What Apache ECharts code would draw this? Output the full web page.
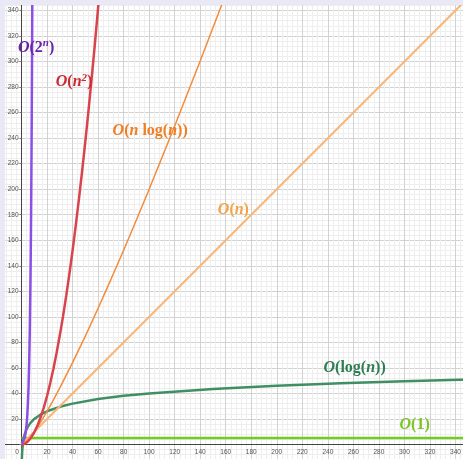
<!DOCTYPE html>
<html>
<head>
<meta charset="utf-8">
<script src="https://cdn.jsdelivr.net/npm/echarts@6/dist/echarts.min.js"></script>
<style>
html,body{margin:0;padding:0;background:#e9e9f5;width:463px;height:459px;overflow:hidden;}
#wrap{position:absolute;left:5px;top:5px;width:458px;height:454px;overflow:hidden;background:#fff;}
#chart{position:absolute;left:-29px;top:-40px;width:525px;height:525px;}
</style>
</head>
<body>
<div id="wrap"><div id="chart"></div></div>
<script>
// ---- data ----
const xTicks = [0,20,40,60,80,100,120,140,160,180,200,220,240,260,280,300,320,340];
const yTicks = [20,40,60,80,100,120,140,160,180,200,220,240,260,280,300,320,340];

const exp2 = [[0,1],[0.5,1.4],[1,2],[1.5,2.8],[2,4],[2.5,5.7],[3,8],[3.5,11.3],[4,16],[4.5,22.6],[5,32],[5.5,45.3],[6,64],[6.5,90.5],[7,128],[7.25,152],[7.5,181],[7.75,215],[8,256],[8.25,304],[8.5,362]];
const quad = [[0,0],[2.5,0.6],[5,2.4],[7.5,5.3],[10,9.5],[12.5,14.8],[15,21.4],[17.5,29.1],[20,38],[22.5,48.1],[25,59.4],[27.5,71.8],[30,85.5],[32.5,100.3],[35,116.4],[37.5,133.6],[40,152],[42.5,171.6],[45,192.4],[47.5,214.3],[50,237.5],[52.5,261.8],[55,287.4],[57.5,314.1],[60,342],[62,365]];
const nlogn = [[0,0],[0.25,-0.15],[0.5,-0.15],[0.75,-0.09],[1,0],[1.5,0.26],[2,0.6],[3,1.4],[4,2.4],[5,3.5],[7,5.9],[10,10],[15,17.6],[20,26],[25,35],[30,44.3],[40,64.1],[50,84.9],[60,106.7],[70,129.2],[80,152.2],[90,175.9],[100,200],[120,249.5],[140,300.5],[160,352.7]];
const linear = [[0,0],[350,350]];
const logn = [[0.27,-11.4],[0.35,-9.1],[0.5,-6],[0.7,-3.1],[1,0],[1.5,3.5],[2,6],[2.5,8],[3,9.5],[4,12],[5,14],[7,16.9],[10,20],[15,23.5],[20,26],[30,29.5],[40,32],[60,35.6],[80,38.1],[100,40],[150,43.5],[200,46],[250,48],[300,49.5],[350,50.9]];
const constant = [[0,5],[350,5]];

const labelAnchors = {
  exp2: [11.4, 311], quad: [41.2, 284], nlogn: [100.8, 246],
  linear: [166, 183.5], logn: [261, 60.4], constant: [308, 15]
};

const chart = echarts.init(document.getElementById('chart'), null, {renderer:'canvas'});

const serifFont = '"Liberation Serif", "DejaVu Serif", serif';
const tickFont = '"Liberation Sans", Arial, sans-serif';
function richFor(color){
  return {
    i:{fontFamily:serifFont,fontStyle:'italic',fontWeight:'bold',fontSize:16,color:color},
    r:{fontFamily:serifFont,fontWeight:'bold',fontSize:16,color:color},
    s:{fontFamily:serifFont,fontStyle:'italic',fontWeight:'bold',fontSize:11,color:color,padding:[0,0,8,0]}
  };
}
function lineSeries(name,data,color,width,anchor,text,labelColor){
  return {
    name:name,type:'line',data:data,showSymbol:false,smooth:false,
    lineStyle:{color:color,width:width},itemStyle:{color:color},
    clip:true,animation:false,silent:true,
    markPoint:{
      symbol:'circle',symbolSize:0,silent:true,animation:false,
      data:[{coord:anchor}],
      label:{show:true,position:'inside',formatter:text,rich:richFor(labelColor)}
    }
  };
}

const option = {
  animation:false,
  grid:{left:20,right:20,top:20,bottom:20,containLabel:false,show:false},
  xAxis:{
    type:'value',min:-20,max:360,interval:20,position:'bottom',offset:-25.5,
    axisLine:{onZero:false,lineStyle:{color:'#444',width:1}},
    axisTick:{show:false},
    axisLabel:{
      show:true,margin:4,fontSize:6.5,color:'#555',fontFamily:tickFont,hideOverlap:false,
      showMinLabel:true,showMaxLabel:true,
      formatter:function(v){ if(xTicks.indexOf(v)<0) return ''; return v===0?'{z|0}':String(v); },
      rich:{z:{fontSize:6.5,color:'#555',fontFamily:tickFont,padding:[0,9,0,0]}}
    },
    splitLine:{show:true,lineStyle:{color:'#d2d2d2',width:1}},
    minorTick:{show:false,splitNumber:5},
    minorSplitLine:{show:true,lineStyle:{color:'#eeeeee',width:1}}
  },
  yAxis:{
    type:'value',min:-20,max:360,interval:20,position:'left',offset:-25.5,
    axisLine:{onZero:false,lineStyle:{color:'#444',width:1}},
    axisTick:{show:true,length:2,lineStyle:{color:'#777'}},
    axisLabel:{
      show:true,margin:3,fontSize:6.5,color:'#555',fontFamily:tickFont,hideOverlap:false,
      showMinLabel:true,showMaxLabel:true,
      formatter:function(v){ return yTicks.indexOf(v)<0?'':String(v); }
    },
    splitLine:{show:true,lineStyle:{color:'#d2d2d2',width:1}},
    minorTick:{show:false,splitNumber:5},
    minorSplitLine:{show:true,lineStyle:{color:'#eeeeee',width:1}}
  },
  series:[
    lineSeries('O(1)',constant,'#72cc22',2.5,labelAnchors.constant,'{i|O}{r|(1)}','#7cc524'),
    lineSeries('O(log n)',logn,'#3f8f62',2.5,labelAnchors.logn,'{i|O}{r|(log(}{i|n}{r|))}','#2f7d52'),
    lineSeries('O(n)',linear,'#f8b676',2,labelAnchors.linear,'{i|O}{r|(}{i|n}{r|)}','#f2a247'),
    lineSeries('O(n log n)',nlogn,'#f28c3c',1.5,labelAnchors.nlogn,'{i|O}{r|(}{i|n}{r| log(}{i|n}{r|))}','#ee7f22'),
    lineSeries('O(n^2)',quad,'#d9434c',2.5,labelAnchors.quad,'{i|O}{r|(}{i|n}{s|2}{r|)}','#cc2a33'),
    lineSeries('O(2^n)',exp2,'#8c4ee6',2.5,labelAnchors.exp2,'{i|O}{r|(2}{s|n}{r|)}','#6a22a6')
  ]
};
chart.setOption(option);
</script>
</body>
</html>
